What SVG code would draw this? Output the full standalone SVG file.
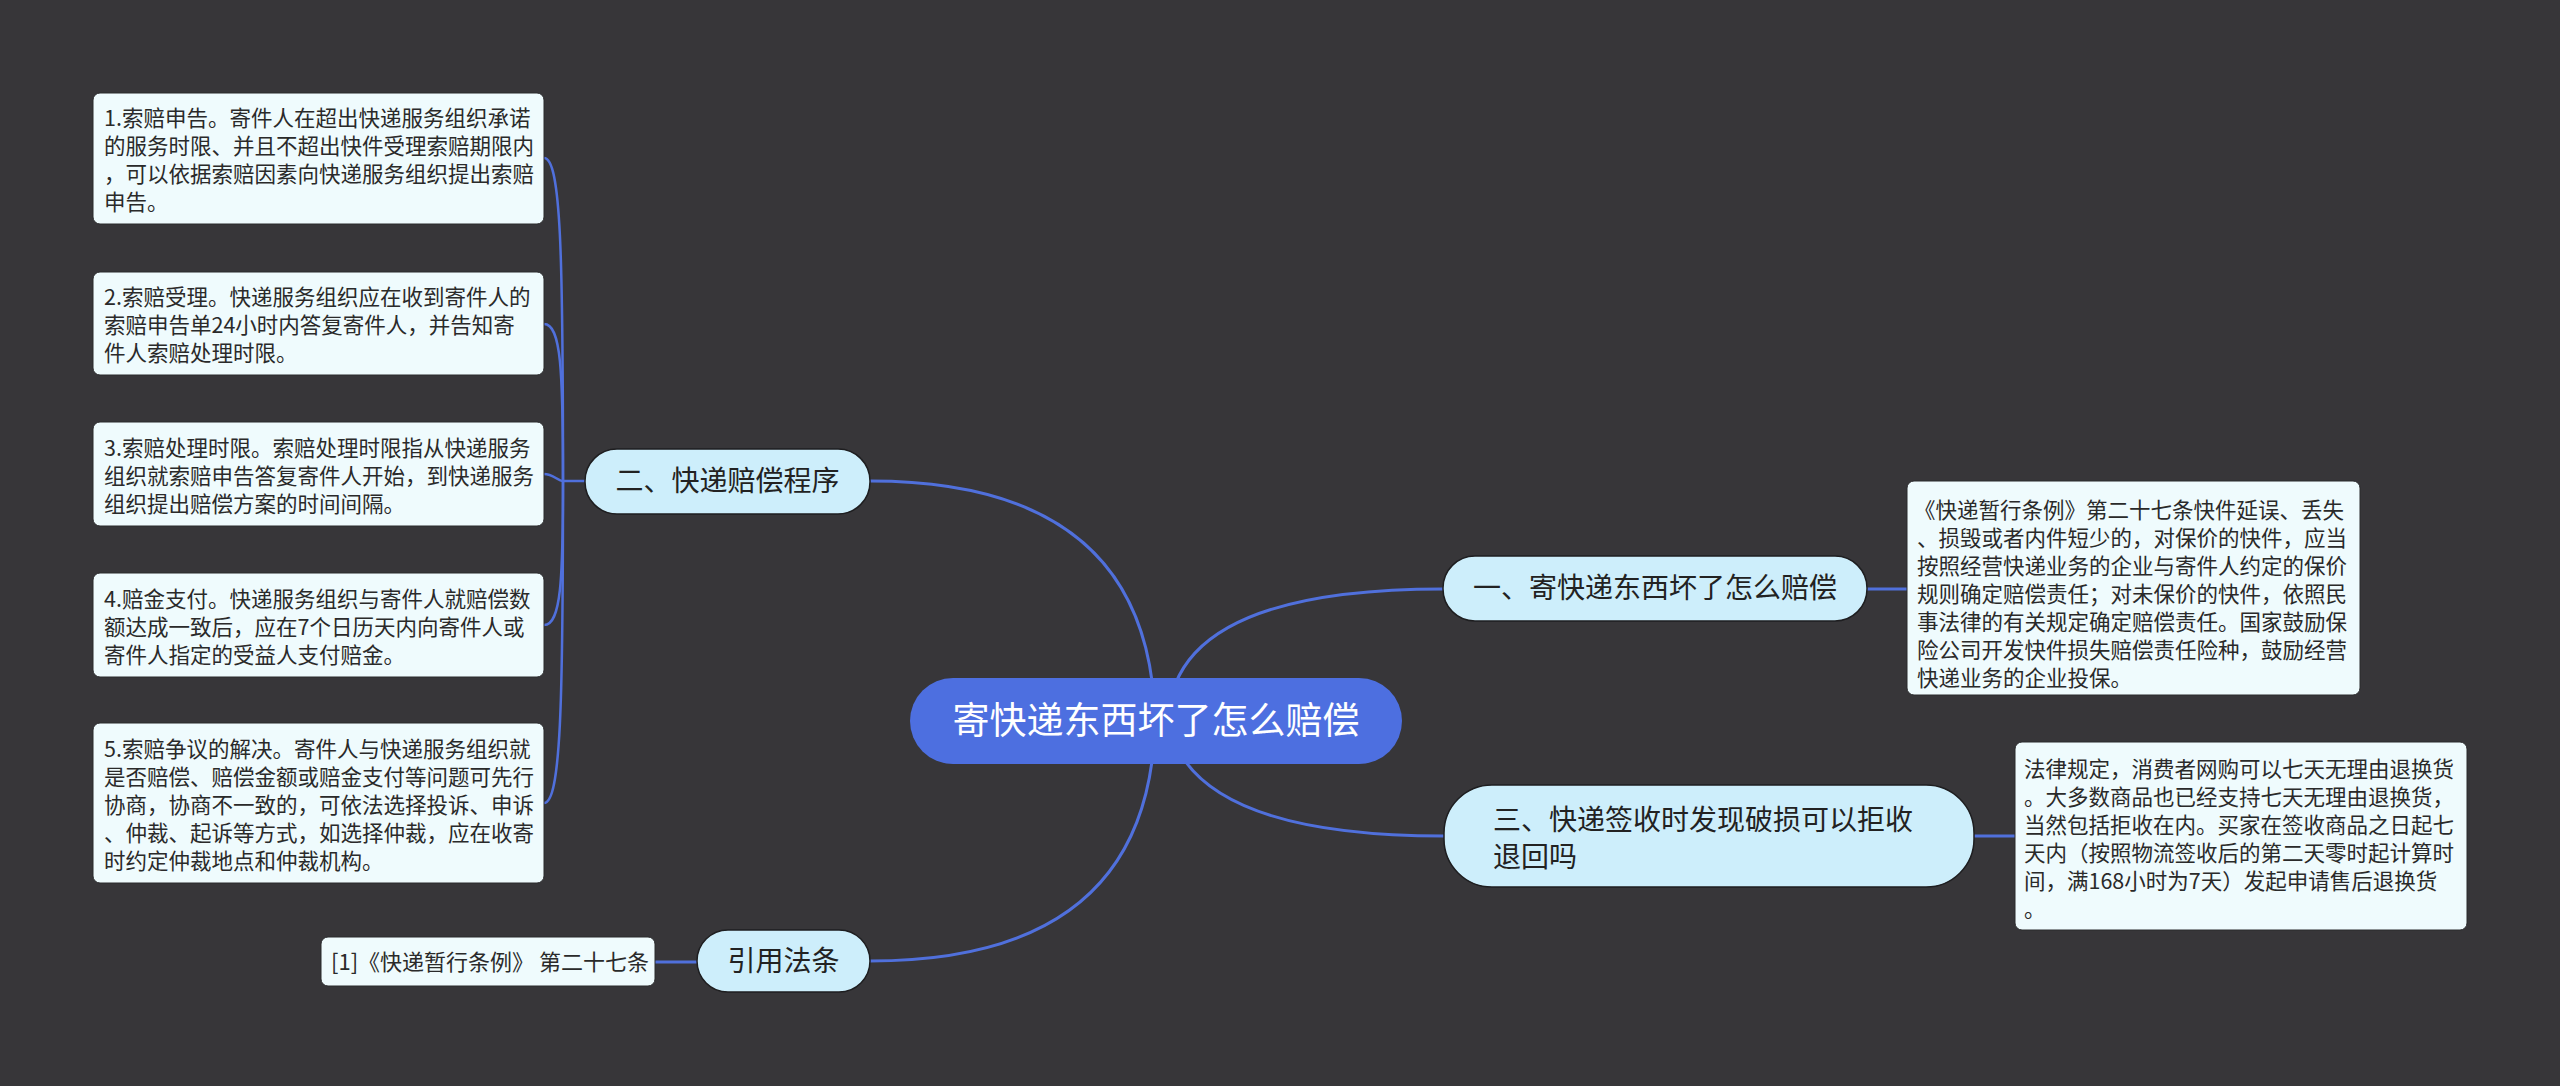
<svg xmlns="http://www.w3.org/2000/svg" width="2560" height="1086" viewBox="0 0 2560 1086">
<defs>
<style>
.bg{fill:#373639}
.ln{fill:none;stroke:#5070dc;stroke-width:3;stroke-linecap:round}
.ln2{fill:none;stroke:#5070dc;stroke-width:2.5;stroke-linecap:round}
.root{fill:#4d6fe0}
.sub{fill:#cdeefb;stroke:#1e1e20;stroke-width:1.5}
.box{fill:#effbfd;stroke:#2a2a2c;stroke-width:1}
text{font-family:"Noto Sans CJK SC","Noto Sans",sans-serif}
.tr{font-size:37px;fill:#ffffff;text-anchor:middle}
.ts{font-size:28px;fill:#222222}
.tb{font-size:21.5px;fill:#2a2a2a}
.tref{font-size:22px;fill:#2a2a2a}
</style>
</defs>
<rect class="bg" x="0" y="0" width="2560" height="1086"/>
<g id="connectors">
<path class="ln" d="M870,481 Q1150,481 1155,721"/>
<path class="ln" d="M870,961 Q1150,961 1155,721"/>
<path class="ln" d="M1443,589 Q1172,589 1168,721"/>
<path class="ln" d="M1444,836 Q1190,836 1168,721"/>
<path class="ln" d="M1867,589 L1907,589"/>
<path class="ln" d="M1974,836 L2015,836"/>
<path class="ln" d="M655,962 L697,962"/>
<path class="ln2" d="M585,481 L563,481"/>
<path class="ln2" d="M563,481 C563,255 561,158 544,158"/>
<path class="ln2" d="M563,481 C563,370 561,324 544,324"/>
<path class="ln2" d="M563,481 C558,481 553,474 544,474"/>
<path class="ln2" d="M563,481 C563,580 561,625 544,625"/>
<path class="ln2" d="M563,481 C563,700 561,803 544,803"/>
</g>
<g id="root">
<rect class="root" x="910" y="678" width="492" height="86" rx="43"/>
<text class="tr" x="1156" y="734">寄快递东西坏了怎么赔偿</text>
</g>
<g id="n-er">
<rect class="sub" x="585" y="449" width="285" height="65" rx="32"/>
<text class="ts" x="727.5" y="491" text-anchor="middle">二、快递赔偿程序</text>
</g>
<g id="n-yinyong">
<rect class="sub" x="697" y="930" width="173" height="62" rx="31"/>
<text class="ts" x="783.5" y="971" text-anchor="middle">引用法条</text>
</g>
<g id="n-yi">
<rect class="sub" x="1443" y="556" width="424" height="65" rx="32"/>
<text class="ts" x="1655" y="598" text-anchor="middle">一、寄快递东西坏了怎么赔偿</text>
</g>
<g id="n-san">
<rect class="sub" x="1444" y="785" width="530" height="102" rx="48"/>
<text class="ts" x="1493" y="830">三、快递签收时发现破损可以拒收</text>
<text class="ts" x="1493" y="867">退回吗</text>
</g>
<g id="b-l1">
<rect class="box" x="93" y="93" width="451" height="131" rx="7"/>
<text class="tb"><tspan x="104" y="126">1.索赔申告。寄件人在超出快递服务组织承诺</tspan><tspan x="104" y="154">的服务时限、并且不超出快件受理索赔期限内</tspan><tspan x="104" y="182">，可以依据索赔因素向快递服务组织提出索赔</tspan><tspan x="104" y="210">申告。</tspan></text>
</g>
<g id="b-l2">
<rect class="box" x="93" y="272" width="451" height="103" rx="7"/>
<text class="tb"><tspan x="104" y="305">2.索赔受理。快递服务组织应在收到寄件人的</tspan><tspan x="104" y="333">索赔申告单24小时内答复寄件人，并告知寄</tspan><tspan x="104" y="361">件人索赔处理时限。</tspan></text>
</g>
<g id="b-l3">
<rect class="box" x="93" y="422" width="451" height="104" rx="7"/>
<text class="tb"><tspan x="104" y="456">3.索赔处理时限。索赔处理时限指从快递服务</tspan><tspan x="104" y="484">组织就索赔申告答复寄件人开始，到快递服务</tspan><tspan x="104" y="512">组织提出赔偿方案的时间间隔。</tspan></text>
</g>
<g id="b-l4">
<rect class="box" x="93" y="573" width="451" height="104" rx="7"/>
<text class="tb"><tspan x="104" y="607">4.赔金支付。快递服务组织与寄件人就赔偿数</tspan><tspan x="104" y="635">额达成一致后，应在7个日历天内向寄件人或</tspan><tspan x="104" y="663">寄件人指定的受益人支付赔金。</tspan></text>
</g>
<g id="b-l5">
<rect class="box" x="93" y="723" width="451" height="160" rx="7"/>
<text class="tb"><tspan x="104" y="757">5.索赔争议的解决。寄件人与快递服务组织就</tspan><tspan x="104" y="785">是否赔偿、赔偿金额或赔金支付等问题可先行</tspan><tspan x="104" y="813">协商，协商不一致的，可依法选择投诉、申诉</tspan><tspan x="104" y="841">、仲裁、起诉等方式，如选择仲裁，应在收寄</tspan><tspan x="104" y="869">时约定仲裁地点和仲裁机构。</tspan></text>
</g>
<g id="b-ref">
<rect class="box" x="321" y="937" width="334" height="49" rx="7"/>
<text class="tref" x="331" y="970">[1]《快递暂行条例》 第二十七条</text>
</g>
<g id="b-r1">
<rect class="box" x="1907" y="481" width="453" height="214" rx="7"/>
<text class="tb"><tspan x="1914" y="518">《快递暂行条例》第二十七条快件延误、丢失</tspan><tspan x="1917" y="546">、损毁或者内件短少的，对保价的快件，应当</tspan><tspan x="1917" y="574">按照经营快递业务的企业与寄件人约定的保价</tspan><tspan x="1917" y="602">规则确定赔偿责任；对未保价的快件，依照民</tspan><tspan x="1917" y="630">事法律的有关规定确定赔偿责任。国家鼓励保</tspan><tspan x="1917" y="658">险公司开发快件损失赔偿责任险种，鼓励经营</tspan><tspan x="1917" y="686">快递业务的企业投保。</tspan></text>
</g>
<g id="b-r2">
<rect class="box" x="2015" y="742" width="452" height="188" rx="7"/>
<text class="tb"><tspan x="2024" y="777">法律规定，消费者网购可以七天无理由退换货</tspan><tspan x="2024" y="805">。大多数商品也已经支持七天无理由退换货，</tspan><tspan x="2024" y="833">当然包括拒收在内。买家在签收商品之日起七</tspan><tspan x="2024" y="861">天内（按照物流签收后的第二天零时起计算时</tspan><tspan x="2024" y="889">间，满168小时为7天）发起申请售后退换货</tspan><tspan x="2024" y="917">。</tspan></text>
</g>
</svg>
